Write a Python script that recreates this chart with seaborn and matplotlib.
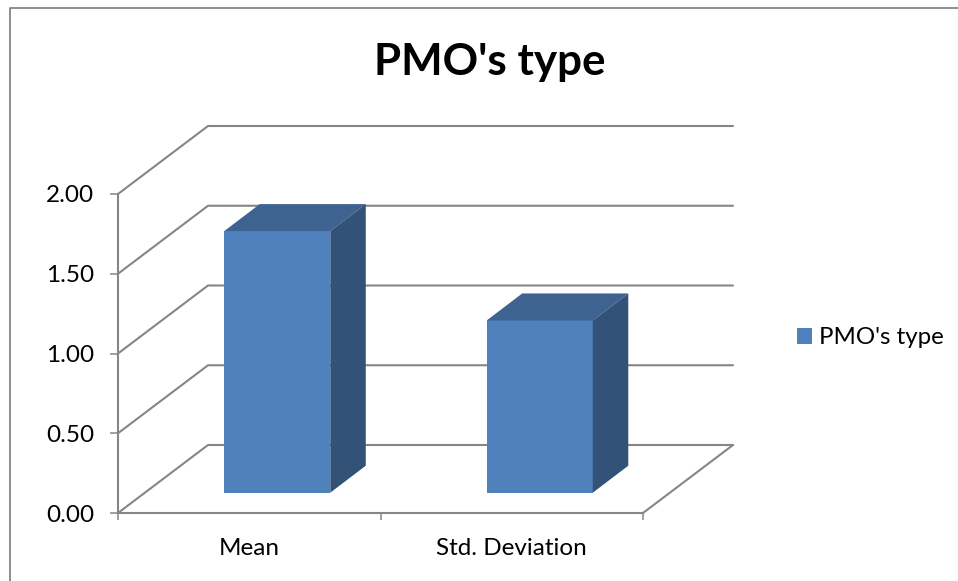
import matplotlib
matplotlib.use("Agg")
import matplotlib.pyplot as plt
import pandas as pd
import seaborn as sns
from matplotlib.lines import Line2D

categories = ["Mean", "Std. Deviation"]
values = [1.64, 1.08]
series_name = "PMO's type"
y_ticks = [0.0, 0.5, 1.0, 1.5, 2.0]

W, H = 958, 581
GRID = "#868686"
FRONT = "#4F81BD"
TOP = "#3E6390"
SIDE = "#325278"

sns.set_theme(style="white")
plt.rcParams["font.family"] = ["Lato", "DejaVu Sans"]

df = pd.DataFrame({"stat": categories, "value": values})

fig = plt.figure(figsize=(W / 100, H / 100), dpi=100)
# axes = front plane of the fake 3d box
ax = fig.add_axes([118 / W, (H - 513) / H, 525 / W, 319 / H])
sns.barplot(data=df, x="stat", y="value", color=FRONT, width=0.404, saturation=1,
            label=series_name, ax=ax, zorder=5, linewidth=0)
ax.set_xlim(-0.5, 1.5)
ax.set_ylim(0, 2)

# pixels to data units
px = 2 / 525
py = 2 / 319
wall_dx, wall_dy = 90 * px, 68 * py
shift_x, shift_y = 28 * px, 20.3 * py
bar_dx, bar_dy = 35.5 * px, 27 * py

# back wall and floor lines
for v in y_ticks:
    ax.plot([-0.5, -0.5 + wall_dx, 1.5 + wall_dx], [v, v + wall_dy, v + wall_dy],
            color=GRID, lw=1.5, clip_on=False, zorder=1)
ax.plot([1.5, 1.5 + wall_dx], [0, wall_dy], color=GRID, lw=1.5, clip_on=False, zorder=1)

# move bars back from the front plane, then add top and side faces
for p in ax.patches:
    p.set_x(p.get_x() + shift_x)
    p.set_y(p.get_y() + shift_y)
    p.set_clip_on(False)
    x0, x1 = p.get_x(), p.get_x() + p.get_width()
    y0, y1 = p.get_y(), p.get_y() + p.get_height()
    ax.fill([x0, x1, x1 + bar_dx, x0 + bar_dx], [y1, y1, y1 + bar_dy, y1 + bar_dy],
            color=TOP, lw=0, clip_on=False, zorder=5)
    ax.fill([x1, x1 + bar_dx, x1 + bar_dx, x1], [y0, y0 + bar_dy, y1 + bar_dy, y1],
            color=SIDE, lw=0, clip_on=False, zorder=5)

ax.set_xlabel("")
ax.set_ylabel("")
ax.set_yticks(y_ticks)
ax.set_yticklabels([f"{v:.2f}" for v in y_ticks])
ax.set_xticks([0, 1])
ax.set_xticklabels(categories)
ax.set_xticks([-0.5, 0.5, 1.5], minor=True)
ax.tick_params(axis="y", left=True, length=6, width=1.1, color=GRID, pad=11, labelsize=17.5, labelcolor="black")
ax.tick_params(axis="x", which="major", bottom=False, pad=12, labelsize=17.5, labelcolor="black")
ax.tick_params(axis="x", which="minor", bottom=True, length=5, width=1.1, color=GRID)
sns.despine(ax=ax)
for s in ["left", "bottom"]:
    ax.spines[s].set_color(GRID)
    ax.spines[s].set_linewidth(1.5)
ax.patch.set_alpha(0)

ax.legend(loc="center left", bbox_to_anchor=(797 / W, (H - 338) / H), bbox_transform=fig.transFigure,
          frameon=False, fontsize=17.3, handlelength=0.625, handleheight=0.625, handletextpad=0.29,
          borderpad=0, borderaxespad=0, labelcolor="black")

fig.text(490 / W, (H - 62) / H, series_name, ha="center", va="center", fontsize=31.7, fontweight="bold", color="black")

# chart frame, only left and top edges are inside the crop
fig.add_artist(Line2D([9.5 / W, 9.5 / W, 1], [0, (H - 7.5) / H, (H - 7.5) / H], color=GRID, lw=1.3))

fig.savefig("out.png", dpi=100, facecolor="white")
